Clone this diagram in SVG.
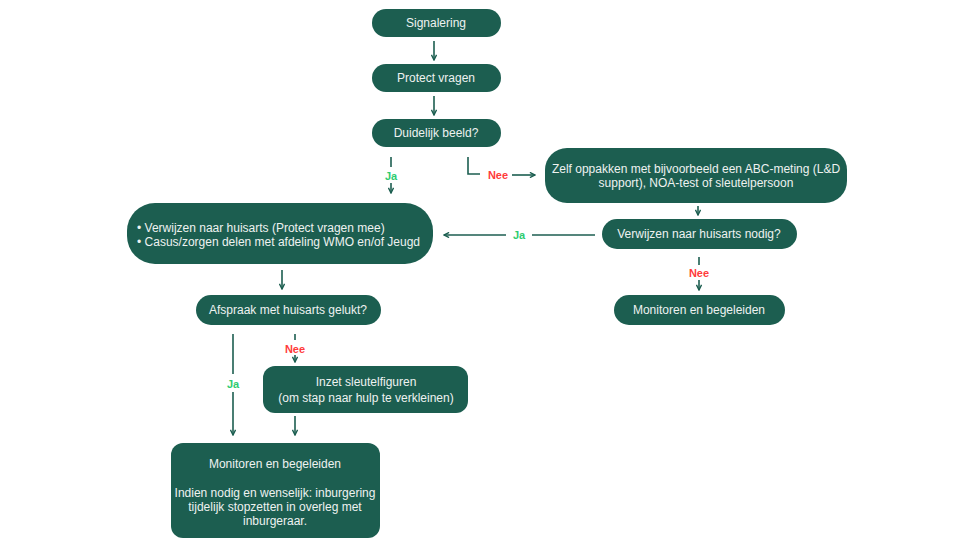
<svg xmlns="http://www.w3.org/2000/svg" width="975" height="548" viewBox="0 0 975 548">
<defs>
<marker id="ah" viewBox="0 0 10 10" refX="9" refY="5" markerWidth="4" markerHeight="4" orient="auto"><path d="M1,1 L9,5 L1,9" fill="none" stroke="#1c5e50" stroke-width="2.2"/></marker>
<style>
.n{fill:#1c5e50}
.t{font-family:"Liberation Sans",Arial,sans-serif;font-size:12px;fill:#eef2f0;text-anchor:middle}
.l{text-anchor:start}
.c{fill:none;stroke:#1c5e50;stroke-width:1.6}
.ja{font-family:"Liberation Sans",Arial,sans-serif;font-size:11px;font-weight:bold;fill:#2ecc71;text-anchor:middle}
.nee{font-family:"Liberation Sans",Arial,sans-serif;font-size:11px;font-weight:bold;fill:#ff3b3b;text-anchor:middle}
</style>
</defs>
<rect width="975" height="548" fill="#ffffff"/>
<g id="connectors">
<path class="c" d="M434,41 V60" marker-end="url(#ah)"/>
<path class="c" d="M434,96 V115" marker-end="url(#ah)"/>
<path class="c" d="M391,157 V167"/>
<path class="c" d="M391,183 V193" marker-end="url(#ah)"/>
<path class="c" d="M468,157 V174 H480"/>
<path class="c" d="M512,175 H535" marker-end="url(#ah)"/>
<path class="c" d="M698,206 V215" marker-end="url(#ah)"/>
<path class="c" d="M595,235 H532"/>
<path class="c" d="M506,235 H444" marker-end="url(#ah)"/>
<path class="c" d="M699,257 V265"/>
<path class="c" d="M699,280 V290" marker-end="url(#ah)"/>
<path class="c" d="M282,270 V289" marker-end="url(#ah)"/>
<path class="c" d="M233,334 V374"/>
<path class="c" d="M233,392 V435" marker-end="url(#ah)"/>
<path class="c" d="M295,334 V340"/>
<path class="c" d="M295,355 V362" marker-end="url(#ah)"/>
<path class="c" d="M295,416 V435" marker-end="url(#ah)"/>
<text class="ja" x="391" y="180">Ja</text>
<text class="nee" x="498" y="179">Nee</text>
<text class="ja" x="519" y="239">Ja</text>
<text class="nee" x="699" y="277">Nee</text>
<text class="ja" x="233" y="388">Ja</text>
<text class="nee" x="295" y="353">Nee</text>
</g>
<g id="signalering"><rect class="n" x="372" y="9" width="129" height="28" rx="14"/><text class="t" x="436" y="27">Signalering</text></g>
<g id="protect"><rect class="n" x="372" y="64" width="129" height="28" rx="14"/><text class="t" x="436" y="82">Protect vragen</text></g>
<g id="duidelijk"><rect class="n" x="372" y="119" width="129" height="28" rx="14"/><text class="t" x="436" y="137">Duidelijk beeld?</text></g>
<g id="zelf"><rect class="n" x="545" y="148" width="302" height="55" rx="22"/><text class="t" x="696" y="173">Zelf oppakken met bijvoorbeeld een ABC-meting (L&amp;D</text><text class="t" x="696" y="187">support), NOA-test of sleutelpersoon</text></g>
<g id="verwijzen-nodig"><rect class="n" x="602" y="219" width="195" height="30" rx="15"/><text class="t" x="699" y="238">Verwijzen naar huisarts nodig?</text></g>
<g id="monitoren-rechts"><rect class="n" x="614" y="295" width="171" height="30" rx="15"/><text class="t" x="699" y="314">Monitoren en begeleiden</text></g>
<g id="verwijzen"><rect class="n" x="127" y="203" width="306" height="61" rx="28"/><text class="t l" x="137" y="232">• Verwijzen naar huisarts (Protect vragen mee)</text><text class="t l" x="137" y="246">• Casus/zorgen delen met afdeling WMO en/of Jeugd</text></g>
<g id="afspraak"><rect class="n" x="196" y="295" width="185" height="30" rx="15"/><text class="t" x="288" y="314">Afspraak met huisarts gelukt?</text></g>
<g id="inzet"><rect class="n" x="263" y="366" width="205" height="47" rx="12"/><text class="t" x="366" y="386">Inzet sleutelfiguren</text><text class="t" x="366" y="402">(om stap naar hulp te verkleinen)</text></g>
<g id="monitoren-links"><rect class="n" x="171" y="443" width="209" height="95" rx="12"/><text class="t" x="275" y="468">Monitoren en begeleiden</text><text class="t" x="275" y="497">Indien nodig en wenselijk: inburgering</text><text class="t" x="275" y="511">tijdelijk stopzetten in overleg met</text><text class="t" x="275" y="525">inburgeraar.</text></g>
</svg>
